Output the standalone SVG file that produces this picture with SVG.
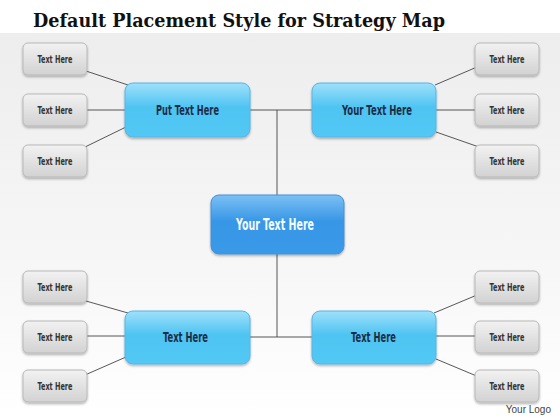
<svg xmlns="http://www.w3.org/2000/svg" width="560" height="420" viewBox="0 0 560 420">
<defs>
<linearGradient id="bg" x1="0" y1="0" x2="0" y2="1">
<stop offset="0" stop-color="#ececec"/>
<stop offset="0.6" stop-color="#f6f6f6"/>
<stop offset="1" stop-color="#ffffff"/>
</linearGradient>
<linearGradient id="gray" x1="0" y1="0" x2="0" y2="1">
<stop offset="0" stop-color="#f2f2f2"/>
<stop offset="1" stop-color="#d2d2d2"/>
</linearGradient>
<linearGradient id="blue" x1="0" y1="0" x2="0" y2="1">
<stop offset="0" stop-color="#9fe0fa"/>
<stop offset="0.45" stop-color="#4ec4f2"/>
<stop offset="1" stop-color="#52c8f4"/>
</linearGradient>
<linearGradient id="center" x1="0" y1="0" x2="0" y2="1">
<stop offset="0" stop-color="#7cc0f4"/>
<stop offset="0.45" stop-color="#3796e6"/>
<stop offset="1" stop-color="#3a9ae8"/>
</linearGradient>
<filter id="sh" x="-20%" y="-20%" width="140%" height="150%">
<feDropShadow dx="0" dy="1.5" stdDeviation="1.2" flood-color="#000" flood-opacity="0.3"/>
</filter>
</defs>
<style>
.title{font-family:"DejaVu Serif","Liberation Serif",serif;font-weight:bold;font-size:19px;fill:#111}
.g rect{fill:url(#gray);stroke:#b8b8b8;stroke-width:1;filter:url(#sh)}
.g text{font-family:"DejaVu Sans Condensed","Liberation Sans",sans-serif;font-weight:bold;font-size:11px;fill:#333;text-anchor:middle}
.b rect{fill:url(#blue);stroke:#5ab4e4;stroke-width:1;filter:url(#sh)}
.b text{font-family:"DejaVu Sans Condensed","Liberation Sans",sans-serif;font-weight:bold;font-size:14px;fill:#1c2c48;text-anchor:middle}
.c rect{fill:url(#center);stroke:#4a8fd0;stroke-width:1;filter:url(#sh)}
.c text{font-family:"DejaVu Sans Condensed","Liberation Sans",sans-serif;font-weight:bold;font-size:15px;fill:#f4fbff;text-anchor:middle}
.conn line{stroke:#444;stroke-width:0.9}
</style>
<rect x="0" y="0" width="560" height="420" fill="url(#bg)"/>
<rect x="0" y="0" width="560" height="33" fill="#ffffff"/>
<text class="title" x="33" y="27" textLength="412" lengthAdjust="spacingAndGlyphs">Default Placement Style for Strategy Map</text>

<g id="connectors" class="conn">
<line x1="277" y1="110" x2="277" y2="195"/>
<line x1="277" y1="254" x2="277" y2="337"/>
<line x1="250" y1="110" x2="312" y2="110"/>
<line x1="250" y1="337" x2="312" y2="337"/>
<line x1="86" y1="71" x2="128" y2="85"/>
<line x1="87" y1="110" x2="125" y2="110"/>
<line x1="85" y1="147" x2="126" y2="127"/>
<line x1="435" y1="85" x2="477" y2="67"/>
<line x1="436" y1="110" x2="475" y2="110"/>
<line x1="436" y1="132" x2="479" y2="147"/>
<line x1="86" y1="301" x2="128" y2="313"/>
<line x1="87" y1="336" x2="125" y2="336"/>
<line x1="85" y1="375" x2="126" y2="357"/>
<line x1="434" y1="313" x2="477" y2="295"/>
<line x1="436" y1="336" x2="475" y2="336"/>
<line x1="436" y1="359" x2="479" y2="377"/>
</g>

<g id="tl1" class="g"><rect x="23" y="43" width="64" height="32" rx="5"/><text x="55" y="63" textLength="35" lengthAdjust="spacingAndGlyphs">Text Here</text></g>
<g id="tl2" class="g"><rect x="23" y="94" width="64" height="32" rx="5"/><text x="55" y="114" textLength="35" lengthAdjust="spacingAndGlyphs">Text Here</text></g>
<g id="tl3" class="g"><rect x="23" y="145" width="64" height="32" rx="5"/><text x="55" y="165" textLength="35" lengthAdjust="spacingAndGlyphs">Text Here</text></g>
<g id="tr1" class="g"><rect x="475" y="43" width="64" height="32" rx="5"/><text x="507" y="63" textLength="35" lengthAdjust="spacingAndGlyphs">Text Here</text></g>
<g id="tr2" class="g"><rect x="475" y="94" width="64" height="32" rx="5"/><text x="507" y="114" textLength="35" lengthAdjust="spacingAndGlyphs">Text Here</text></g>
<g id="tr3" class="g"><rect x="475" y="145" width="64" height="32" rx="5"/><text x="507" y="165" textLength="35" lengthAdjust="spacingAndGlyphs">Text Here</text></g>
<g id="bl1" class="g"><rect x="23" y="271" width="64" height="32" rx="5"/><text x="55" y="291" textLength="35" lengthAdjust="spacingAndGlyphs">Text Here</text></g>
<g id="bl2" class="g"><rect x="23" y="321" width="64" height="32" rx="5"/><text x="55" y="341" textLength="35" lengthAdjust="spacingAndGlyphs">Text Here</text></g>
<g id="bl3" class="g"><rect x="23" y="370" width="64" height="32" rx="5"/><text x="55" y="390" textLength="35" lengthAdjust="spacingAndGlyphs">Text Here</text></g>
<g id="br1" class="g"><rect x="475" y="271" width="64" height="32" rx="5"/><text x="507" y="291" textLength="35" lengthAdjust="spacingAndGlyphs">Text Here</text></g>
<g id="br2" class="g"><rect x="475" y="321" width="64" height="32" rx="5"/><text x="507" y="341" textLength="35" lengthAdjust="spacingAndGlyphs">Text Here</text></g>
<g id="br3" class="g"><rect x="475" y="370" width="64" height="32" rx="5"/><text x="507" y="390" textLength="35" lengthAdjust="spacingAndGlyphs">Text Here</text></g>

<g id="putText" class="b"><rect x="125" y="83" width="125" height="54" rx="8"/><text x="187.5" y="115" textLength="63" lengthAdjust="spacingAndGlyphs">Put Text Here</text></g>
<g id="yourTextTop" class="b"><rect x="312" y="83" width="124" height="54" rx="8"/><text x="377" y="115" textLength="70" lengthAdjust="spacingAndGlyphs">Your Text Here</text></g>
<g id="textHereLeft" class="b"><rect x="125" y="311" width="125" height="53" rx="8"/><text x="185.5" y="342" textLength="45" lengthAdjust="spacingAndGlyphs">Text Here</text></g>
<g id="textHereRight" class="b"><rect x="312" y="311" width="124" height="53" rx="8"/><text x="373.5" y="342" textLength="45" lengthAdjust="spacingAndGlyphs">Text Here</text></g>
<g id="centerNode" class="c"><rect x="211" y="195" width="133" height="59" rx="8"/><text x="275" y="230" textLength="78" lengthAdjust="spacingAndGlyphs">Your Text Here</text></g>

<text x="551" y="413" font-family="Liberation Sans, sans-serif" font-size="10" fill="#444" text-anchor="end">Your Logo</text>
</svg>
